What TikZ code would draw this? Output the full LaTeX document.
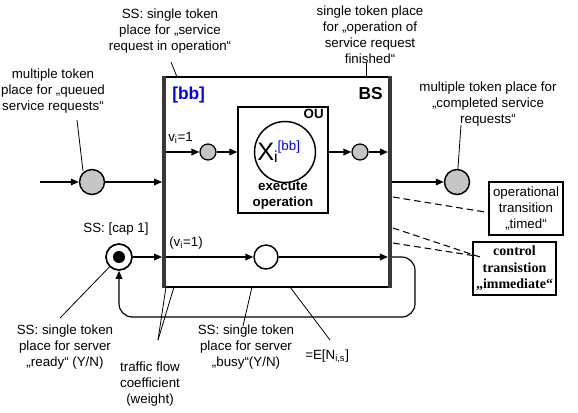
\documentclass[tikz,border=0pt]{standalone}
\usepackage{fontspec}
\setmainfont{Liberation Sans}
\newfontfamily\serifbold{Liberation Serif}
\usetikzlibrary{arrows.meta,calc}
\tikzset{
  txt/.style={font=\fontsize{10}{12}\selectfont, align=center, inner sep=0pt},
  arr/.style={line width=1.1pt, -{Triangle[length=6pt,width=5pt]}},
  place/.style={circle, draw, line width=1.1pt, fill=gray!45, minimum size=18.75pt, inner sep=0pt},
  smallplace/.style={circle, draw, line width=0.9pt, fill=gray!45, minimum size=12pt, inner sep=0pt},
  whiteplace/.style={circle, draw, line width=1.1pt, fill=white, minimum size=18pt, inner sep=0pt},
  pointer/.style={line width=0.6pt},
  guide/.style={line width=0.8pt, dash pattern=on 5pt off 3pt},
  barline/.style={line width=3.2pt, draw=black!78},
  notebox/.style={draw, line width=0.8pt, inner sep=0pt},
}
\begin{document}
\begin{tikzpicture}[x=0.75pt,y=-0.75pt]
\useasboundingbox (0,0) rectangle (578,412);

% BS box and the operating unit inside
\node[draw, line width=1.4pt, minimum width=168pt, minimum height=157.5pt, inner sep=0pt] (bs) at (277,182) {};
\node[draw, line width=1pt, fill=white, minimum width=67.5pt, minimum height=79.5pt, inner sep=0pt] (ou) at (283,160) {};
\node[circle, draw, line width=1.1pt, minimum size=45.75pt, inner sep=0pt] (x) at (285,152) {};
\node[inner sep=0pt, anchor=base west] (xl) at (257,160) {\fontsize{19}{19}\selectfont X\raisebox{-2.2pt}{\fontsize{12}{12}\selectfont i}\raisebox{7.5pt}{\fontsize{10}{10}\selectfont\color{blue}[bb]}};
\node[txt, font=\fontsize{10}{12}\selectfont\bfseries] (exec) at (283,196) {execute\\operation};
\node[txt, font=\fontsize{10}{12}\selectfont\bfseries, anchor=base east] (oulbl) at (324,118) {OU};
\node[txt, font=\fontsize{13}{13}\selectfont\bfseries, text=blue, anchor=base west] (bblbl) at (172,99) {[bb]};
\node[txt, font=\fontsize{13}{13}\selectfont\bfseries, anchor=base east] (bslbl) at (383,99) {BS};
\node[txt, anchor=base west] (v1) at (168,141) {v\textsubscript{i}=1};
\node[txt, anchor=base west] (v2) at (169,246) {(v\textsubscript{i}=1)};

% places
\node[place] (q) at (92,182) {};
\node[place] (out) at (457,182) {};
\node[smallplace] (s1) at (208,152) {};
\node[smallplace] (s2) at (360,152) {};
\node[circle, draw, line width=1.3pt, fill=white, minimum size=19.5pt, inner sep=0pt] (ready) at (119,257) {};
\node[circle, fill=black, minimum size=9pt, inner sep=0pt] (tok) at (ready) {};
\node[whiteplace] (busy) at (266,257) {};
\node[txt, anchor=base] (cap) at (116,232) {SS: [cap 1]};

% arcs
\coordinate (src) at (40,182);
\coordinate (loopc) at (415,317);
\draw[arr] (src) -- (q);
\draw[arr, shorten >=1.5pt] (q) -- (bs.west |- q);
\draw[arr] (bs.west |- s1) -- (s1);
\draw[arr] (s1) -- (ou.west |- s1);
\draw[arr] (ou.east |- s2) -- (s2);
\draw[arr, shorten >=1.5pt] (s2) -- (bs.east |- s2);
\draw[arr, shorten <=1.5pt] (bs.east |- out) -- (out);
\draw[arr, shorten >=1.5pt] (ready) -- (bs.west |- ready);
\draw[arr] (bs.west |- busy) -- (busy);
\draw[arr, shorten >=1.5pt] (busy) -- (bs.east |- busy);
\draw[line width=0.9pt, rounded corners=10pt, -{Triangle[length=6pt,width=5pt]}] (bs.east |- busy) -| (loopc) -| (ready.south);

% transitions
\draw[barline] (bs.north west) -- (bs.south west);
\draw[barline] (bs.north east) -- (bs.south east);

% annotations
\node[txt] (lInOp) at (170,31) {SS: single token\\place for „service\\request in operation“};
\node[txt] (lQueued) at (53,91) {multiple token\\place for „queued\\service requests“};
\node[txt] (lFin) at (370,35) {single token place\\for „operation of\\service request\\finished“};
\node[txt] (lComp) at (488,104) {multiple token place for\\„completed service\\requests“};
\node[txt] (lReady) at (65,347) {SS: single token\\place for server\\„ready“ (Y/N)};
\node[txt] (lTraffic) at (150,384) {traffic flow\\coefficient\\(weight)};
\node[txt] (lBusy) at (246,347) {SS: single token\\place for server\\„busy“(Y/N)};
\node[txt, anchor=base west] (lE) at (305,359) {=E[N\textsubscript{i,s}]};
\node[notebox, minimum width=55.5pt, minimum height=39.75pt, txt] (timed) at (526,208.5) {operational\\transition\\„timed“};
\node[notebox, minimum width=62.25pt, minimum height=39.75pt, txt, font=\fontsize{10.5}{12.5}\selectfont\serifbold\bfseries] (ctrl) at (514.5,268.5) {control\\transistion\\„immediate“};

\coordinate (p1) at (171,62);   \coordinate (p1e) at (177,77);
\coordinate (p2) at (77,120);   \coordinate (p2e) at (83,171);
\coordinate (p3) at (366,63);   \coordinate (p3e) at (366,77);
\coordinate (p4) at (461,125);
\coordinate (p5) at (60,318);
\coordinate (p6) at (158,340);  \coordinate (p6a) at (166,287); \coordinate (p6b) at (174,287);
\coordinate (p7) at (243,326);  \coordinate (p7e) at (252,287);
\coordinate (p8) at (330,340);  \coordinate (p8e) at (290,287);
\draw[pointer] (p1) -- (p1e);
\draw[pointer] (p2) -- (p2e);
\draw[pointer] (p3) -- (p3e);
\draw[pointer] (p4) -- (out);
\draw[pointer] (p5) -- (ready);
\draw[pointer] (p6) -- (p6a);
\draw[pointer] (p6) -- (p6b);
\draw[pointer] (p7) -- (p7e);
\draw[pointer] (p8) -- (p8e);

\coordinate (d1) at (393,197); \coordinate (d1e) at (485,212);
\coordinate (d2) at (393,228); \coordinate (d2e) at (480,257);
\coordinate (d3) at (393,243); \coordinate (d3e) at (476,256);
\draw[guide] (d1) -- (d1e);
\draw[guide] (d2) -- (d2e);
\draw[guide] (d3) -- (d3e);
\end{tikzpicture}
\end{document}
